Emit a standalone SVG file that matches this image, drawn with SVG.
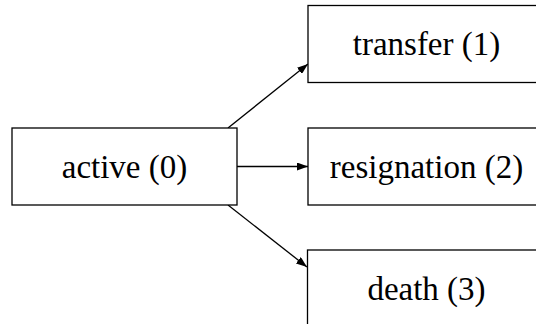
<svg xmlns="http://www.w3.org/2000/svg" width="536" height="324" viewBox="0 0 536 324">
<style>
.box{fill:#fff;stroke:#000;stroke-width:1.3}
.lbl{font-family:"Liberation Serif","DejaVu Serif",serif;font-size:33px;fill:#000;text-anchor:middle}
.edge{stroke:#000;stroke-width:1.3;fill:none}
</style>
<defs>
<marker id="ah" viewBox="0 0 11 8" refX="11" refY="4" markerWidth="11" markerHeight="8" markerUnits="userSpaceOnUse" orient="auto">
<path d="M0,0 L11,4 L0,8 Z" fill="#000"/>
</marker>
</defs>
<rect width="536" height="324" fill="#fff"/>
<g id="connectors">
<line class="edge" x1="228" y1="128" x2="308" y2="64" marker-end="url(#ah)"/>
<line class="edge" x1="237" y1="166.5" x2="308" y2="166.5" marker-end="url(#ah)"/>
<line class="edge" x1="228" y1="205" x2="307" y2="267" marker-end="url(#ah)"/>
</g>
<g id="active">
<rect class="box" x="12" y="128" width="225" height="77"/>
<text class="lbl" x="124.5" y="178">active (0)</text>
</g>
<g id="transfer">
<rect class="box" x="308" y="5.5" width="237" height="77"/>
<text class="lbl" x="426.5" y="55">transfer (1)</text>
</g>
<g id="resignation">
<rect class="box" x="308" y="128" width="237" height="77"/>
<text class="lbl" x="426.5" y="178">resignation (2)</text>
</g>
<g id="death">
<rect class="box" x="307.5" y="250" width="237" height="77"/>
<text class="lbl" x="426.5" y="300">death (3)</text>
</g>
</svg>
